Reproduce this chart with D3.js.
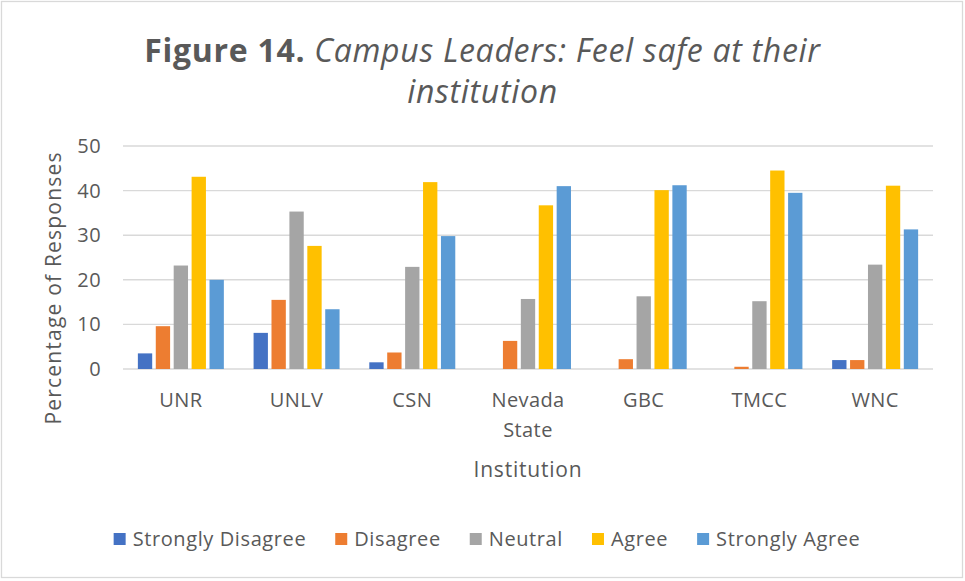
<!DOCTYPE html>
<html>
<head>
<meta charset="utf-8">
<script src="https://cdn.jsdelivr.net/npm/d3@7"></script>
<style>
  html, body { margin: 0; padding: 0; background: #fff; }
  svg { display: block; font-family: "Open Sans", sans-serif; }
</style>
</head>
<body>
<svg id="chart" width="965" height="581"></svg>
<script>
const categories = ["UNR", "UNLV", "CSN", "Nevada State", "GBC", "TMCC", "WNC"];
const seriesNames = ["Strongly Disagree", "Disagree", "Neutral", "Agree", "Strongly Agree"];
const seriesColors = ["#4472C4", "#ED7D31", "#A5A5A5", "#FFC000", "#5B9BD5"];
const stronglyDisagree = [3.5, 8.1, 1.5, 0, 0, 0, 2.0];
const disagree = [9.6, 15.5, 3.7, 6.3, 2.2, 0.5, 2.0];
const neutral = [23.2, 35.3, 22.9, 15.7, 16.3, 15.2, 23.4];
const agree = [43.1, 27.6, 41.9, 36.7, 40.1, 44.5, 41.1];
const stronglyAgree = [20.0, 13.4, 29.8, 41.0, 41.2, 39.5, 31.3];
const yTicks = [0, 10, 20, 30, 40, 50];

const seriesValues = [stronglyDisagree, disagree, neutral, agree, stronglyAgree];
const textColor = "#595959";
const gridColor = "#d9d9d9";

const svg = d3.select("#chart");
const W = 965, H = 581;

// border
svg.append("rect").attr("x", 1.5).attr("y", 1.5).attr("width", W - 4).attr("height", H - 5)
  .attr("fill", "#fff").attr("stroke", gridColor).attr("stroke-width", 1.3);

const plot = { left: 123, right: 933, top: 146, bottom: 369 };

const x = d3.scaleBand().domain(categories).range([plot.left, plot.right])
  .paddingInner(0.226).paddingOuter(0.113);
const xs = d3.scaleBand().domain(seriesNames).range([0, x.bandwidth()])
  .paddingInner(0.2).paddingOuter(0.1);
const y = d3.scaleLinear().domain([0, 50]).range([plot.bottom, plot.top]);

// gridlines
svg.append("g").selectAll("line").data(yTicks).join("line")
  .attr("x1", plot.left).attr("x2", plot.right)
  .attr("y1", d => y(d)).attr("y2", d => y(d))
  .attr("stroke", gridColor).attr("stroke-width", 1.4);

// y tick labels
svg.append("g").selectAll("text").data(yTicks).join("text")
  .attr("x", 101).attr("y", d => y(d)).attr("dy", "0.35em")
  .attr("text-anchor", "end").attr("fill", textColor)
  .attr("font-size", 20).attr("letter-spacing", 0.4).text(d => d);

// bars
const groups = svg.append("g").selectAll("g").data(categories).join("g")
  .attr("transform", d => `translate(${x(d)},0)`);
groups.selectAll("rect")
  .data((c, ci) => seriesNames.map((s, si) => ({ s, si, v: seriesValues[si][ci] })))
  .join("rect")
  .attr("x", d => xs(d.s))
  .attr("width", xs.bandwidth())
  .attr("y", d => y(d.v))
  .attr("height", d => y(0) - y(d.v))
  .attr("fill", d => seriesColors[d.si]);

// x labels
const xl = svg.append("g").selectAll("text").data(categories).join("text")
  .attr("text-anchor", "middle").attr("fill", textColor).attr("font-size", 20)
  .attr("letter-spacing", 0.4)
  .attr("x", d => x(d) + x.bandwidth() / 2).attr("y", 407);
xl.each(function(d) {
  const t = d3.select(this);
  const words = d === "Nevada State" ? ["Nevada", "State"] : [d];
  words.forEach((w, i) => {
    t.append("tspan").attr("x", x(d) + x.bandwidth() / 2).attr("dy", i === 0 ? 0 : 30).text(w);
  });
});

// axis titles
svg.append("text").attr("x", (plot.left + plot.right) / 2).attr("y", 477)
  .attr("text-anchor", "middle").attr("fill", textColor).attr("font-size", 21)
  .attr("letter-spacing", 0.8).text("Institution");
svg.append("text").attr("transform", "translate(61,288) rotate(-90)")
  .attr("text-anchor", "middle").attr("fill", textColor).attr("font-size", 21)
  .attr("letter-spacing", 1.2).text("Percentage of Responses");

// title
const title = svg.append("text").attr("x", W / 2).attr("y", 62)
  .attr("text-anchor", "middle").attr("fill", textColor).attr("font-size", 32)
  .attr("letter-spacing", 0.7);
title.append("tspan").attr("font-weight", "bold").text("Figure 14.");
title.append("tspan").attr("font-style", "italic").text(" Campus Leaders: Feel safe at their");
svg.append("text").attr("x", W / 2).attr("y", 103)
  .attr("text-anchor", "middle").attr("fill", textColor).attr("font-size", 32)
  .attr("letter-spacing", 0.7).attr("font-style", "italic").text("institution");

// legend
const legend = svg.append("g");
const legendGap = 29;
let cx = 0;
seriesNames.forEach((s, i) => {
  const g = legend.append("g").attr("transform", `translate(${cx},0)`);
  g.append("rect").attr("x", 0).attr("y", 533).attr("width", 12).attr("height", 12)
    .attr("fill", seriesColors[i]);
  const t = g.append("text").attr("x", 19).attr("y", 546).attr("fill", textColor)
    .attr("font-size", 20).attr("letter-spacing", 0.6).text(s);
  cx += 19 + t.node().getComputedTextLength() + legendGap;
});
const totalW = cx - legendGap;
legend.attr("transform", `translate(${487 - totalW / 2},0)`);
</script>
</body>
</html>
